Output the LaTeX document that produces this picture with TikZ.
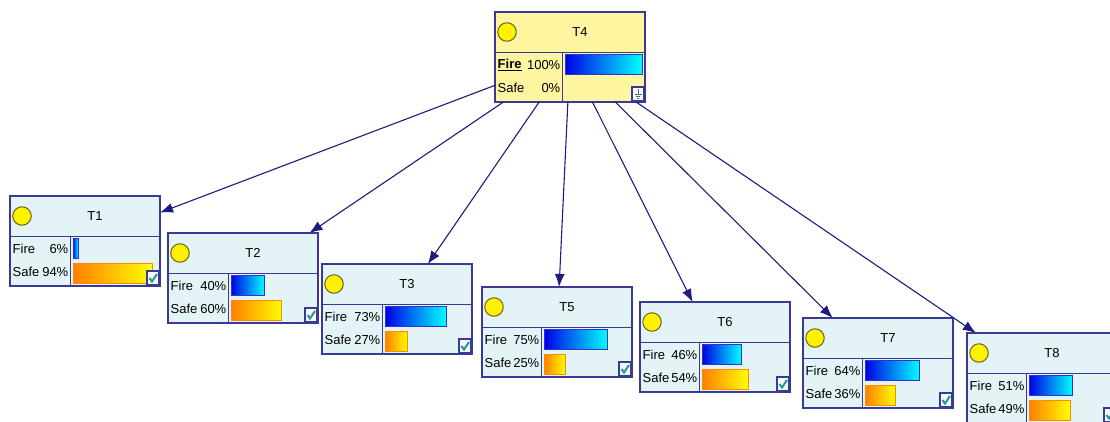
\documentclass[tikz,border=0pt]{standalone}
\usepackage{fontspec}
\setmainfont{Liberation Sans}
\usetikzlibrary{arrows.meta}
\definecolor{boxblue}{RGB}{58,58,150}
\definecolor{linkblue}{RGB}{28,28,125}
\definecolor{nodecyan}{RGB}{228,244,246}
\definecolor{nodeyellow}{RGB}{253,245,160}
\definecolor{dotrim}{RGB}{110,100,20}
\definecolor{firedark}{RGB}{0,0,230}
\definecolor{fireline}{RGB}{50,50,210}
\definecolor{safeline}{RGB}{255,140,0}
\definecolor{checkteal}{RGB}{40,150,150}
\tikzset{
    netbox/.style={draw=boxblue, line width=1.4pt, minimum width=150pt,
        minimum height=90pt, inner sep=0pt, outer sep=0pt},
    boxline/.style={draw=boxblue, line width=1pt},
    state dot/.style={circle, draw=dotrim, fill=yellow, line width=1pt,
        minimum size=18.5pt, inner sep=0pt},
    label text/.style={font=\fontsize{13}{15}\selectfont, inner sep=0pt},
    fire bar/.style={draw=fireline, line width=0.8pt, left color=firedark, right color=cyan},
    safe bar/.style={draw=safeline, line width=0.8pt, left color=orange, right color=yellow},
    icon box/.style={draw=boxblue, line width=1.1pt, fill=white!60!nodecyan},
    link/.style={draw=linkblue, line width=1.1pt, -{Latex[length=13pt,width=10pt]}}}

% name, top-left, title, fire label, fire %, safe %, divider, fill, icon
\newcommand{\bnnode}[9]{%
    \begin{scope}[shift={(#2)}]
        \node[netbox, fill=#8] (#1) at (75,45) {};
    \end{scope}
    \begin{scope}[shift={(#1.north west)}]
        \draw[boxline] (0,40) -- (150,40);
        \draw[boxline] (#7,40) -- (#7,90);
        \node[state dot] (#1-dot) at (12,20) {};
        \node[label text] (#1-title) at (85,20) {#3};
        \node[label text, anchor=west] (#1-fire) at (2.5,53) {#4};
        \node[label text, anchor=east] (#1-firep) at (#7-1.5,53) {#5\%};
        \node[label text, anchor=west] (#1-safe) at (2.5,76) {Safe};
        \node[label text, anchor=east] (#1-safep) at (#7-1.5,76) {#6\%};
        \ifnum#5>0 \shadedraw[fire bar] (#7+3,42) rectangle ({#7+3+(144-#7)*#5/100},62);\fi
        \ifnum#6>0 \shadedraw[safe bar] (#7+3,67) rectangle ({#7+3+(144-#7)*#6/100},87);\fi
        \begin{scope}[shift={(137,75)}]
            \draw[icon box] (0,0) rectangle (12,14);
            #9
        \end{scope}
    \end{scope}}
\newcommand{\checkicon}{\draw[checkteal, line width=2pt] (2.5,7) -- (5,10.5) -- (10,3);}
\newcommand{\groundicon}{\draw[gray!80!black, line width=0.8pt]
    (6,2) -- (6,7) (2.5,7) -- (9.5,7) (3.8,9.3) -- (8.2,9.3) (5,11.6) -- (7,11.6);}

\begin{document}
\begin{tikzpicture}[x=1pt, y=-1pt]
    \clip (0,0) rectangle (1110,421);

    \bnnode{t4}{495,12}{T4}{\bfseries\underline{Fire}}{100}{0}{67}{nodeyellow}{\groundicon}
    \bnnode{t1}{10,196}{T1}{Fire}{6}{94}{60}{nodecyan}{\checkicon}
    \bnnode{t2}{168,233}{T2}{Fire}{40}{60}{60}{nodecyan}{\checkicon}
    \bnnode{t3}{322,264}{T3}{Fire}{73}{27}{60}{nodecyan}{\checkicon}
    \bnnode{t5}{482,287}{T5}{Fire}{75}{25}{59}{nodecyan}{\checkicon}
    \bnnode{t6}{640,302}{T6}{Fire}{46}{54}{59}{nodecyan}{\checkicon}
    \bnnode{t7}{803,318}{T7}{Fire}{64}{36}{59}{nodecyan}{\checkicon}
    \bnnode{t8}{967,333}{T8}{Fire}{51}{49}{59}{nodecyan}{\checkicon}

    \draw[link] (t4) -- (t1);
    \draw[link] (t4) -- (t2);
    \draw[link] (t4) -- (t3);
    \draw[link] (t4) -- (t5);
    \draw[link] (t4) -- (t6);
    \draw[link] (t4) -- (t7);
    \draw[link] (t4) -- (t8);

\end{tikzpicture}
\end{document}
